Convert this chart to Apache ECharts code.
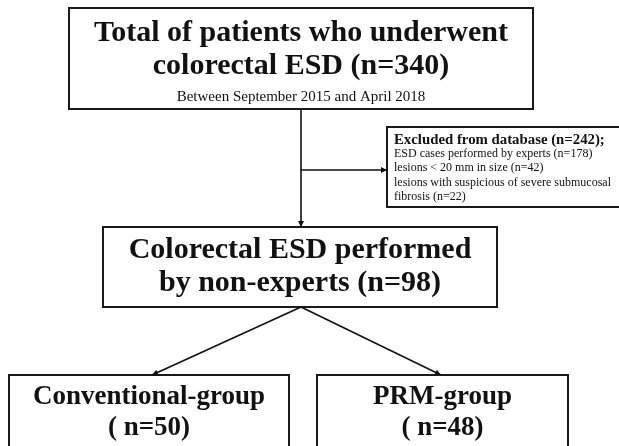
<!DOCTYPE html>
<html>
<head>
<meta charset="utf-8">
<script src="https://cdn.jsdelivr.net/npm/echarts@6/dist/echarts.min.js"></script>
<style>
  html, body { margin: 0; padding: 0; background: #ffffff; }
  #chart { width: 619px; height: 446px; }
</style>
</head>
<body>
<div id="chart"></div>
<script>
// ---- data (text & counts) ----
const totalTitle = ['Total of patients who underwent', 'colorectal ESD'];
const totalN = 340;
const totalPeriod = 'Between September 2015 and April 2018';
const excludedTitle = 'Excluded from database';
const excludedN = 242;
const excludedReasons = ['ESD cases performed by experts', 'lesions < 20 mm in size', 'lesions with suspicious of severe submucosal\nfibrosis'];
const excludedReasonN = [178, 42, 22];
const nonExpertTitle = ['Colorectal ESD performed', 'by non-experts'];
const nonExpertN = 98;
const groupNames = ['Conventional-group', 'PRM-group'];
const groupN = [50, 48];

// ---- layout ----
const SERIF = '"Liberation Serif", "Times New Roman", Times, serif';
const box = {
  total:    { x: 69,  y: 8,   w: 464, h: 101 },
  excluded: { x: 387, y: 127, w: 240, h: 80 },
  nonExp:   { x: 103, y: 227, w: 394, h: 80 },
  conv:     { x: 9,   y: 375, w: 280, h: 90 },
  prm:      { x: 317, y: 375, w: 251, h: 90 }
};
const stem = 301;

function rect(b) {
  return { type: 'rect', shape: { x: b.x, y: b.y, width: b.w, height: b.h },
    style: { fill: '#fff', stroke: '#1a1a1a', lineWidth: 2 }, z: 1 };
}
function text(str, x, y, size, bold, align) {
  return { type: 'text', z: 5, style: { text: str, x: x, y: y, fill: '#111',
    fontFamily: SERIF, fontSize: size, fontWeight: bold ? 'bold' : 'normal',
    align: align || 'center', verticalAlign: 'middle' } };
}
function line(x1, y1, x2, y2) {
  return { type: 'line', z: 3, shape: { x1: x1, y1: y1, x2: x2, y2: y2 },
    style: { stroke: '#111', lineWidth: 1.6 } };
}
function arrowHead(x1, y1, x2, y2) {
  const a = Math.atan2(y2 - y1, x2 - x1), L = 6, W = 3;
  const bx = x2 - L * Math.cos(a), by = y2 - L * Math.sin(a);
  const px = -Math.sin(a) * W, py = Math.cos(a) * W;
  return { type: 'polygon', z: 4, shape: { points: [[x2, y2], [bx + px, by + py], [bx - px, by - py]] },
    style: { fill: '#111' } };
}
function arrow(x1, y1, x2, y2) { return [line(x1, y1, x2, y2), arrowHead(x1, y1, x2, y2)]; }

const els = [];
// boxes
els.push(rect(box.total), rect(box.excluded), rect(box.nonExp), rect(box.conv), rect(box.prm));

// total box text
const tcx = box.total.x + box.total.w / 2;
els.push(text(totalTitle[0], tcx, 33, 30, true));
els.push(text(totalTitle[1] + ' (n=' + totalN + ')', tcx, 66, 30, true));
els.push(text(totalPeriod, tcx, 97, 15, false));

// excluded box text
const ex = box.excluded.x + 7;
els.push(text(excludedTitle + ' (n=' + excludedN + ');', ex, 140, 14.8, true, 'left'));
const reasonLines = [];
excludedReasons.forEach(function (r, i) {
  const parts = (r + ' (n=' + excludedReasonN[i] + ')').split('\n');
  parts.forEach(function (p) { reasonLines.push(p); });
});
reasonLines.forEach(function (p, i) {
  els.push(text(p, ex, 154 + i * 14.3, 12, false, 'left'));
});

// non-expert box text
const ncx = box.nonExp.x + box.nonExp.w / 2;
els.push(text(nonExpertTitle[0], ncx, 250, 30, true));
els.push(text(nonExpertTitle[1] + ' (n=' + nonExpertN + ')', ncx, 283, 30, true));

// group boxes text
[box.conv, box.prm].forEach(function (b, i) {
  const cx = b.x + b.w / 2;
  els.push(text(groupNames[i], cx, 397, 27, true));
  els.push(text('( n=' + groupN[i] + ')', cx, 428, 27, true));
});

// connectors
arrow(stem, box.total.y + box.total.h, stem, box.nonExp.y).forEach(function (e) { els.push(e); });
arrow(stem, 170, box.excluded.x, 170).forEach(function (e) { els.push(e); });
const by = box.nonExp.y + box.nonExp.h;
arrow(stem, by, 152, box.conv.y).forEach(function (e) { els.push(e); });
arrow(stem, by, 441, box.prm.y).forEach(function (e) { els.push(e); });

const chart = echarts.init(document.getElementById('chart'), null, { renderer: 'canvas' });
chart.setOption({
  backgroundColor: '#ffffff',
  animation: false,
  graphic: { elements: els }
});
</script>
</body>
</html>
